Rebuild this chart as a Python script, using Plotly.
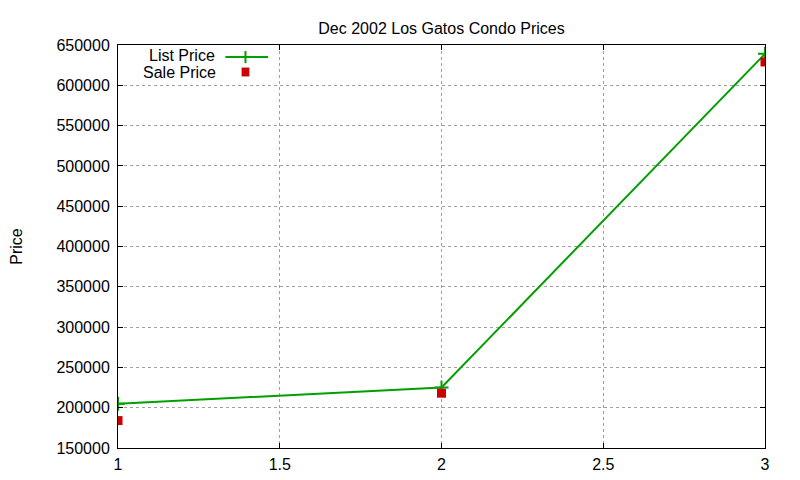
import plotly.graph_objects as go

# data
x_vals = [1, 2, 3]
list_price = [205000, 225000, 639000]
sale_price = [184000, 218000, 629000]

y_ticks = list(range(150000, 650001, 50000))
x_ticks = [1, 1.5, 2, 2.5, 3]

GREEN = "#00a000"
RED = "#cc0000"
FONT = "Liberation Sans, Arial, sans-serif"

fig = go.Figure()

fig.add_trace(go.Scatter(
    x=x_vals, y=list_price, mode="lines+markers", name="List Price",
    line=dict(color=GREEN, width=2),
    marker=dict(symbol="cross-thin", size=10, line=dict(color=GREEN, width=2)),
))
fig.add_trace(go.Scatter(
    x=x_vals, y=sale_price, mode="markers", name="Sale Price",
    marker=dict(symbol="square", size=9, color=RED),
))

# gnuplot-style key: text right-aligned, sample on the right
fig.add_annotation(xref="paper", yref="paper", x=0.153, y=0.973, text="List Price",
                   showarrow=False, xanchor="right", yanchor="middle",
                   font=dict(family=FONT, size=16, color="black"))
fig.add_annotation(xref="paper", yref="paper", x=0.155, y=0.933, text="Sale Price",
                   showarrow=False, xanchor="right", yanchor="middle",
                   font=dict(family=FONT, size=16, color="black"))
fig.add_shape(type="line", xref="paper", yref="paper", x0=0.166, x1=0.232, y0=0.970, y1=0.970,
              line=dict(color=GREEN, width=2))
fig.add_shape(type="line", xref="paper", yref="paper", x0=0.197, x1=0.197, y0=0.955, y1=0.985,
              line=dict(color=GREEN, width=2))
fig.add_shape(type="rect", xref="paper", yref="paper", x0=0.191, x1=0.203, y0=0.922, y1=0.944,
              line=dict(width=0), fillcolor=RED)

axis_common = dict(
    showline=True, linecolor="black", linewidth=1, mirror="ticks",
    ticks="inside", ticklen=5, tickcolor="black", tickwidth=1,
    showgrid=True, gridcolor="#a0a0a0", griddash="3px,3px", gridwidth=1,
    zeroline=False, automargin=False,
    tickfont=dict(family=FONT, size=16, color="black"),
)

fig.update_layout(
    width=800, height=480,
    # page body has an 8px margin, so the plot box is shifted to compensate
    margin=dict(l=110, r=43, t=37, b=40),
    plot_bgcolor="white", paper_bgcolor="white",
    showlegend=False,
    title=dict(text="Dec 2002 Los Gatos Condo Prices", xref="paper", x=0.5, xanchor="center",
               y=0.958, yanchor="middle", font=dict(family=FONT, size=16, color="black")),
    xaxis=dict(range=[1, 3], tickvals=x_ticks, ticktext=[str(t) for t in x_ticks],
               ticklabelstandoff=2, **axis_common),
    yaxis=dict(range=[150000, 650000], tickvals=y_ticks, ticktext=[str(t) for t in y_ticks],
               ticklabelstandoff=4,
               title=dict(text="Price", standoff=40, font=dict(family=FONT, size=16, color="black")),
               **axis_common),
)

fig.write_html("out.html")
